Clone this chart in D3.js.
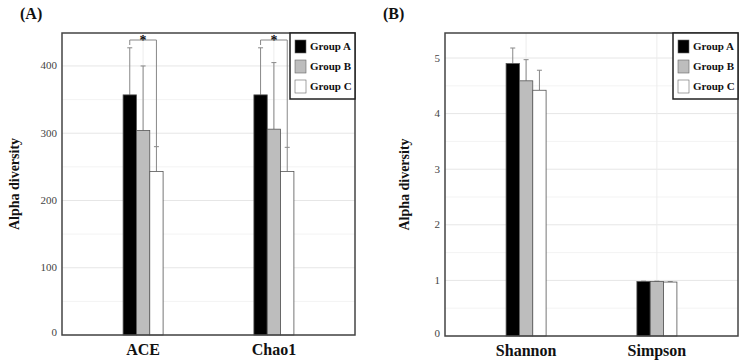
<!doctype html>
<html lang="en">
<head>
  <meta charset="utf-8">
  <style>
    body { margin: 0; background: #fff; }
    svg text { font-family: "Liberation Serif", "Times New Roman", serif; }
    .tick-label { font-size: 11px; fill: #444; }
    .cat-label { font-size: 16px; font-weight: bold; fill: #111; }
    .axis-title { font-size: 14px; font-weight: bold; fill: #111; }
    .panel-title { font-size: 16px; font-weight: bold; fill: #111; }
    .legend-label { font-size: 11px; font-weight: bold; fill: #111; }
  </style>
  <script src="https://d3js.org/d3.v7.min.js"></script>
</head>
<body>
  <script>
    // groups shared by both panels
    const groups = ["Group A", "Group B", "Group C"];
    const groupColors = ["#000000", "#bdbdbd", "#ffffff"];

    // panel A: richness
    const richnessIndices = ["ACE", "Chao1"];
    const richnessMeans = [[357, 304, 243], [357, 306, 243]];
    const richnessSD = [[70, 96, 37], [70, 99, 36]];
    const richnessTicks = [0, 100, 200, 300, 400];
    const richnessMinor = [50, 150, 250, 350];
    const richnessSignif = [
      { index: "ACE", from: "Group A", to: "Group C", label: "*" },
      { index: "Chao1", from: "Group A", to: "Group C", label: "*" }
    ];

    // panel B: diversity
    const diversityIndices = ["Shannon", "Simpson"];
    const diversityMeans = [[4.90, 4.59, 4.42], [0.98, 0.98, 0.97]];
    const diversitySD = [[0.28, 0.38, 0.36], [0.006, 0.006, 0.008]];
    const diversityTicks = [0, 1, 2, 3, 4, 5];
    const diversityMinor = [0.5, 1.5, 2.5, 3.5, 4.5];

    const svg = d3.select("body").append("svg")
      .attr("width", 741)
      .attr("height", 362);

    function drawPanel(opts) {
      const { left, top, width, height } = opts;
      const g = svg.append("g").attr("transform", `translate(${left},${top})`);

      const x = d3.scalePoint()
        .domain(opts.indices)
        .range([0, width])
        .padding(0.62);

      const xg = d3.scaleBand()
        .domain(groups)
        .range([-20, 20]);

      const y = d3.scaleLinear()
        .domain([0, opts.yMax])
        .range([height, 0]);

      const color = d3.scaleOrdinal().domain(groups).range(groupColors);

      // grid
      g.selectAll(".minor").data(opts.minor).join("line")
        .attr("x1", 0).attr("x2", width)
        .attr("y1", d => y(d)).attr("y2", d => y(d))
        .attr("stroke", "#f3f3f3");
      g.selectAll(".major").data(opts.ticks).join("line")
        .attr("x1", 0).attr("x2", width)
        .attr("y1", d => y(d)).attr("y2", d => y(d))
        .attr("stroke", "#e6e6e6");
      g.selectAll(".vgrid").data(opts.indices).join("line")
        .attr("x1", d => x(d)).attr("x2", d => x(d))
        .attr("y1", 0).attr("y2", height)
        .attr("stroke", "#ececec");

      // tick labels
      g.selectAll(".tick-label").data(opts.ticks).join("text")
        .attr("class", "tick-label")
        .attr("x", -5)
        .attr("y", d => y(d))
        .attr("dy", d => d === 0 ? "0.05em" : "0.32em")
        .attr("text-anchor", "end")
        .text(d => d);

      // bars
      const rows = opts.indices.map((idx, i) => groups.map((grp, j) => ({
        index: idx, group: grp, mean: opts.means[i][j], sd: opts.sd[i][j]
      })));
      const flat = rows.flat();

      // error bars (drawn under bars)
      const err = g.selectAll(".err").data(flat).join("g");
      err.append("line")
        .attr("x1", d => x(d.index) + xg(d.group) + xg.bandwidth() / 2)
        .attr("x2", d => x(d.index) + xg(d.group) + xg.bandwidth() / 2)
        .attr("y1", d => y(d.mean))
        .attr("y2", d => y(d.mean + d.sd))
        .attr("stroke", "#888");
      err.append("line")
        .attr("x1", d => x(d.index) + xg(d.group) + xg.bandwidth() / 2 - 2.5)
        .attr("x2", d => x(d.index) + xg(d.group) + xg.bandwidth() / 2 + 2.5)
        .attr("y1", d => y(d.mean + d.sd))
        .attr("y2", d => y(d.mean + d.sd))
        .attr("stroke", "#888");

      g.selectAll(".bar").data(flat).join("rect")
        .attr("x", d => x(d.index) + xg(d.group))
        .attr("y", d => y(d.mean))
        .attr("width", xg.bandwidth())
        .attr("height", d => y(0) - y(d.mean))
        .attr("fill", d => color(d.group))
        .attr("stroke", "#555")
        .attr("stroke-width", 0.8);

      // significance brackets
      (opts.signif || []).forEach(s => {
        const i = opts.indices.indexOf(s.index);
        const cx = grp => x(s.index) + xg(grp) + xg.bandwidth() / 2;
        const jTo = groups.indexOf(s.to);
        const topY = y(opts.yMax) + 7;
        const toY = y(opts.means[i][jTo] + opts.sd[i][jTo]);
        g.append("path")
          .attr("d", `M${cx(s.from)},${topY + 5}V${topY}H${cx(s.to)}V${toY}`)
          .attr("fill", "none")
          .attr("stroke", "#888");
        g.append("text")
          .attr("x", (cx(s.from) + cx(s.to)) / 2)
          .attr("y", topY + 5)
          .attr("text-anchor", "middle")
          .attr("font-size", 14)
          .attr("font-weight", "bold")
          .attr("fill", "#111")
          .text(s.label);
      });

      // frame
      g.append("rect")
        .attr("width", width).attr("height", height)
        .attr("fill", "none")
        .attr("stroke", "#444")
        .attr("stroke-width", 1.5);

      // category labels
      g.selectAll(".cat-label").data(opts.indices).join("text")
        .attr("class", "cat-label")
        .attr("x", d => x(d))
        .attr("y", height + 20)
        .attr("text-anchor", "middle")
        .text(d => d);

      // y title
      g.append("text")
        .attr("class", "axis-title")
        .attr("transform", `translate(${opts.titleX},${height / 2}) rotate(-90)`)
        .attr("text-anchor", "middle")
        .text("Alpha diversity");

      // panel label
      svg.append("text")
        .attr("class", "panel-title")
        .attr("x", opts.labelX)
        .attr("y", 19)
        .text(opts.label);

      // legend
      const lw = 65, lh = 66;
      const lg = g.append("g").attr("transform", `translate(${width - lw},0)`);
      lg.append("rect")
        .attr("width", lw).attr("height", lh)
        .attr("fill", "#fff")
        .attr("stroke", "#222")
        .attr("stroke-width", 1.5);
      const item = lg.selectAll(".item").data(groups).join("g")
        .attr("transform", (d, i) => `translate(5,${7 + i * 20})`);
      item.append("rect")
        .attr("width", 11).attr("height", 13)
        .attr("fill", d => color(d))
        .attr("stroke", "#666")
        .attr("stroke-width", 0.6);
      item.append("text")
        .attr("class", "legend-label")
        .attr("x", 15)
        .attr("y", 10)
        .text(d => d);
    }

    drawPanel({
      left: 62, top: 33, width: 293, height: 302,
      indices: richnessIndices, means: richnessMeans, sd: richnessSD,
      ticks: richnessTicks, minor: richnessMinor, yMax: 449,
      signif: richnessSignif, titleX: -43, labelX: 20, label: "(A)"
    });

    drawPanel({
      left: 445, top: 33, width: 293, height: 303,
      indices: diversityIndices, means: diversityMeans, sd: diversitySD,
      ticks: diversityTicks, minor: diversityMinor, yMax: 5.45,
      titleX: -36, labelX: 383, label: "(B)"
    });
  </script>
</body>
</html>
